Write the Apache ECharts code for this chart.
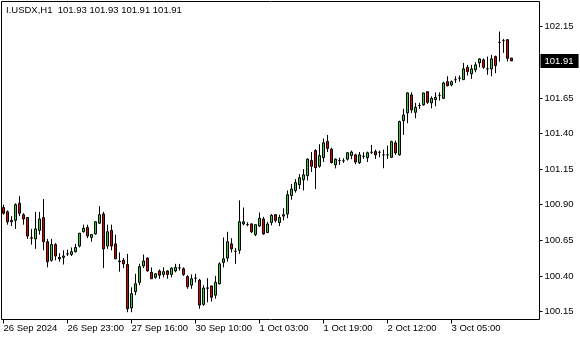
<!DOCTYPE html>
<html>
<head>
<meta charset="utf-8">
<script src="https://cdn.jsdelivr.net/npm/echarts@6/dist/echarts.min.js"></script>
<style>
html,body{margin:0;padding:0;background:#fff;}
#chart{width:580px;height:340px;}
</style>
</head>
<body>
<div id="chart"></div>
<script>
const titleText = 'I.USDX,H1  101.93 101.93 101.91 101.91';
const lastPrice = 101.91;

const opens = [
100.88,100.85,100.78,100.79,100.91,100.83,100.81,100.668,100.66,100.72,
100.81,100.64,100.51,100.62,100.53,100.53,100.555,100.55,100.57,100.61,
100.71,100.74,100.67,100.695,100.77,100.835,100.61,100.72,100.625,100.505,
100.51,100.48,100.175,100.29,100.355,100.47,100.525,100.425,100.39,100.435,
100.41,100.435,100.41,100.435,100.457,100.45,100.395,100.335,100.384,100.37,
100.20,100.316,100.33,100.265,100.345,100.495,100.525,100.625,100.573,100.58,
100.765,100.761,100.765,100.69,100.75,100.80,100.705,100.775,100.83,100.775,
100.82,100.835,100.965,101.00,101.04,101.075,101.105,101.21,101.28,101.17,
101.23,101.345,101.29,101.18,101.21,101.208,101.22,101.245,101.25,101.195,
101.24,101.23,101.268,101.273,101.268,101.25,101.25,101.233,101.334,101.25,
101.49,101.545,101.671,101.549,101.596,101.601,101.694,101.615,101.638,101.666,
101.647,101.764,101.741,101.778,101.788,101.778,101.865,101.819,101.847,101.896,
101.917,101.854,101.854,101.94,102.04,102.052,102.059,101.93
];
const closes = [
100.84,100.78,100.79,100.90,100.84,100.80,100.68,100.665,100.73,100.80,
100.64,100.50,100.62,100.54,100.52,100.54,100.555,100.57,100.60,100.70,
100.735,100.68,100.69,100.78,100.83,100.59,100.71,100.61,100.52,100.50,
100.485,100.17,100.275,100.345,100.465,100.505,100.435,100.38,100.415,100.405,
100.43,100.41,100.455,100.46,100.457,100.41,100.325,100.38,100.384,100.195,
100.315,100.313,100.25,100.355,100.485,100.52,100.64,100.59,100.573,100.78,
100.78,100.761,100.71,100.76,100.805,100.695,100.765,100.825,100.79,100.81,
100.83,100.97,101.01,101.055,101.09,101.11,101.22,101.17,101.16,101.245,
101.335,101.295,101.195,101.22,101.21,101.208,101.265,101.27,101.20,101.25,
101.24,101.265,101.268,101.25,101.268,101.25,101.25,101.343,101.264,101.484,
101.53,101.685,101.566,101.584,101.596,101.685,101.619,101.647,101.654,101.666,
101.755,101.736,101.764,101.778,101.788,101.854,101.835,101.854,101.882,101.924,
101.865,101.854,101.924,101.877,102.04,102.052,101.928,101.91
];
const lows = [
100.83,100.76,100.75,100.73,100.82,100.76,100.66,100.62,100.59,100.69,
100.58,100.46,100.50,100.51,100.50,100.48,100.54,100.54,100.565,100.60,
100.705,100.665,100.64,100.69,100.765,100.455,100.59,100.58,100.52,100.43,
100.455,100.145,100.145,100.265,100.335,100.455,100.43,100.38,100.38,100.38,
100.39,100.38,100.39,100.425,100.438,100.40,100.31,100.31,100.355,100.17,
100.19,100.215,100.22,100.24,100.34,100.46,100.50,100.565,100.485,100.555,
100.755,100.749,100.70,100.68,100.745,100.69,100.70,100.755,100.775,100.75,
100.79,100.805,100.935,100.985,101.01,101.00,101.07,101.13,101.01,101.16,
101.20,101.27,101.19,101.155,101.18,101.194,101.21,101.22,101.185,101.185,
101.222,101.20,101.257,101.222,101.233,101.156,101.222,101.229,101.25,101.245,
101.39,101.472,101.545,101.507,101.573,101.596,101.608,101.577,101.591,101.631,
101.643,101.731,101.731,101.755,101.764,101.776,101.807,101.784,101.83,101.865,
101.854,101.812,101.802,101.823,101.905,101.966,101.905,101.91
];
const highs = [
100.90,100.86,100.82,100.91,100.96,100.84,100.81,100.73,100.85,100.85,
100.94,100.66,100.66,100.63,100.56,100.58,100.585,100.60,100.625,100.70,
100.76,100.76,100.695,100.785,100.89,100.85,100.76,100.76,100.69,100.565,
100.525,100.555,100.32,100.415,100.485,100.55,100.53,100.46,100.42,100.445,
100.46,100.44,100.46,100.485,100.485,100.46,100.405,100.41,100.415,100.38,
100.335,100.384,100.33,100.40,100.495,100.67,100.71,100.665,100.595,100.93,
100.88,100.777,100.77,100.76,100.845,100.815,100.78,100.835,100.835,100.83,
100.875,101.00,101.045,101.08,101.115,101.15,101.225,101.27,101.29,101.325,
101.365,101.39,101.30,101.225,101.23,101.226,101.27,101.28,101.257,101.27,
101.268,101.273,101.32,101.287,101.28,101.287,101.315,101.35,101.35,101.49,
101.573,101.69,101.69,101.615,101.615,101.687,101.695,101.661,101.689,101.689,
101.764,101.802,101.772,101.802,101.807,101.896,101.882,101.882,101.90,101.928,
101.928,101.94,101.952,101.947,102.116,102.064,102.06,101.93
];

const priceTicks = [100.15, 100.40, 100.65, 100.90, 101.15, 101.40, 101.65, 102.15];
const timeTickIndex = [0, 16, 32, 48, 64, 80, 96, 112];
const timeTickLabels = ['26 Sep 2024','26 Sep 23:00','27 Sep 16:00','30 Sep 10:00','1 Oct 03:00','1 Oct 19:00','2 Oct 12:00','3 Oct 05:00'];

const barIndex = opens.map((_, i) => i);
const candles = opens.map((o, i) => [barIndex[i], o, closes[i], lows[i], highs[i]]);

const FONT = 'Liberation Sans, Arial, sans-serif';
const chart = echarts.init(document.getElementById('chart'), null, {renderer: 'canvas'});
chart.setOption({
  animation: false,
  backgroundColor: '#fff',
  title: {
    text: titleText,
    left: 6, top: 5, padding: 0,
    textStyle: {fontSize: 9.5, fontWeight: 'normal', color: '#000', fontFamily: FONT}
  },
  grid: {
    left: 1.5, right: 40.5, top: 1.5, bottom: 20.5,
    outerBoundsMode: 'none',
    show: true, borderColor: '#000', borderWidth: 1, backgroundColor: '#fff'
  },
  xAxis: {
    type: 'value',
    min: -0.5, max: 134,
    axisLine: {show: false, onZero: false},
    axisTick: {
      show: true, length: 4,
      lineStyle: {color: '#000'},
      customValues: timeTickIndex
    },
    axisLabel: {
      show: true,
      customValues: timeTickIndex,
      formatter: (val) => {
        const k = timeTickIndex.indexOf(Math.round(val));
        return k >= 0 ? timeTickLabels[k] : '';
      },
      align: 'left', margin: 4,
      color: '#000', fontSize: 9.5, fontFamily: FONT
    },
    splitLine: {show: false}
  },
  yAxis: {
    type: 'value',
    position: 'right',
    min: 100.094, max: 102.327,
    axisLine: {show: false, onZero: false},
    axisTick: {show: true, length: 3, lineStyle: {color: '#000'}, customValues: priceTicks},
    axisLabel: {
      show: true, margin: 5, color: '#000', fontSize: 9.5, fontFamily: FONT,
      customValues: priceTicks,
      formatter: (v) => v.toFixed(2)
    },
    splitLine: {show: false}
  },
  series: [{
    type: 'candlestick',
    data: candles,
    encode: {x: 0, y: [1, 2, 3, 4]},
    barWidth: 2,
    itemStyle: {
      color: '#32cd32', color0: '#e00000',
      borderColor: '#000', borderColor0: '#000', borderWidth: 1
    },
    markLine: {
      silent: true,
      symbol: ['none', 'none'],
      lineStyle: {color: 'rgba(0,0,0,0)', width: 1},
      data: [{yAxis: lastPrice}],
      label: {
        show: true, position: 'end', distance: 1,
        formatter: () => lastPrice.toFixed(2),
        color: '#fff', backgroundColor: '#000',
        fontSize: 9.5, fontFamily: FONT, padding: [2, 5, 2, 4]
      }
    }
  }]
});
</script>
</body>
</html>
